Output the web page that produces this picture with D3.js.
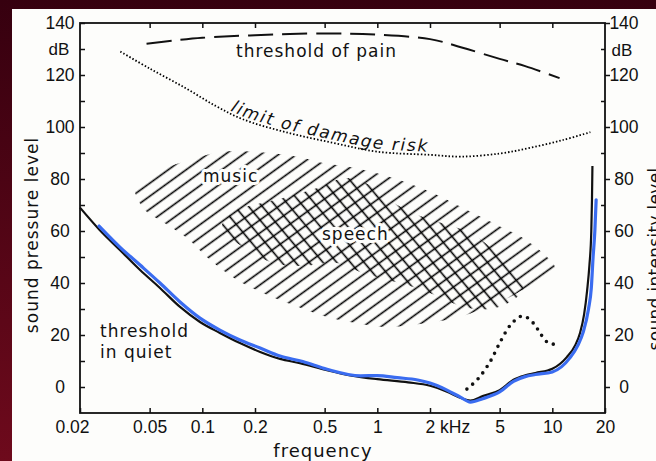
<!DOCTYPE html>
<html><head><meta charset="utf-8">
<script src="https://cdn.jsdelivr.net/npm/d3@7"></script>
<style>
html,body{margin:0;padding:0;background:#4a0514;overflow:hidden}
svg{display:block}
</style></head><body>
<svg id="c" width="656" height="461"></svg>
<script>
// ---------- data ----------
const xTicks = [0.02, 0.05, 0.1, 0.2, 0.5, 1, 2, 5, 10, 20];
const xTickLabels = ["0.02", "0.05", "0.1", "0.2", "0.5", "1", "2 kHz", "5", "10", "20"];
const yTicks = [0, 20, 40, 60, 80, 100, 120, 140];
const yMinorTicks = [10, 30, 50, 70, 90, 110, 130];

const quietFreq = [0.02,0.0259,0.0338,0.0441,0.0573,0.0746,0.097,0.126,0.164,0.214,0.278,0.361,0.516,0.7,1,1.5,2,2.5,3,3.4,4,5,6,7,8,10,12.1,13.5,14.4,15.2,15.8,16.3,16.7,16.85,16.95];
const quietDb   = [69,60.4,52.7,45,38.1,30.8,25,20.8,16.9,13.5,10.8,9.2,6.5,4.5,3,1.8,0.5,-1.8,-4.2,-5.2,-3.5,-1.2,2.8,4.5,5.4,7,11.5,16,20.8,28,37,47,60,72,85];

const blueFreq = [0.0257,0.0338,0.0441,0.0573,0.0746,0.097,0.126,0.164,0.214,0.278,0.375,0.516,0.8,1,1.3,1.7,2,2.5,3,3.4,4,5,6,7,8,10,12.6,14,15,16.1,16.7,17.1,17.5,17.8];
const blueDb   = [61.9,53.8,46.9,40,32.7,26.5,21.9,18.1,15,11.9,9.8,6.8,4.3,4.4,3.6,2.7,1.5,-1.2,-4,-5.8,-4.5,-1.9,2.2,4,4.8,5.8,11.2,16,21,30,38,50,60,72];

const painFreq = [0.048,0.07,0.1,0.2,0.5,1,2,3,5,7,11];
const painDb   = [132,133.3,134.3,135.3,136,135.5,133.8,130.7,126.2,123.4,118.8];

const damageFreq = [0.034,0.05,0.08,0.12,0.17,0.3,0.55,1,2,3,5,7.5,11.5,16.5];
const damageDb   = [129,122.5,115,108,103,98,94,90.5,89.3,88.6,89.8,92,95,98];

const dipFreq = [3.25,3.76,4.4,5.0,5.5,5.88,6.28,6.7,7.26,7.96,8.5,9.33,10.1,11.06];
const dipDb   = [-0.8,3.1,9.6,16.9,21.9,24.6,26.2,27.3,26.5,23.8,20.8,17.3,16.5,16.5];

const musicFreq = [0.0412,0.0452,0.0612,0.085,0.126,0.205,0.33,0.489,0.698,1.18,2.08,3.09,4.83,6.8,9.33,10.36,9.45,7.46,5.73,4.12,2.78,1.75,1.106,0.698,0.516,0.33,0.222,0.158,0.106,0.0817,0.0596,0.047];
const musicDb   = [75.8,79.6,84.2,87.3,90.4,90.4,88.8,86.2,84.6,80.8,74.6,68.8,62.3,57.3,50,45.8,41.9,38.8,34.6,30.4,26.5,24.2,23.1,25,26.9,31.5,36.2,41.2,50,57.3,63.5,68.1];

const speechFreq = [0.1295,0.158,0.195,0.289,0.47,0.654,0.908,1.30,1.82,3.39,5.23,6.54,6.8,5.73,4.41,3.09,2.28,1.60,0.828,0.588,0.361,0.244,0.175,0.140];
const speechDb   = [62.3,68.1,70,72.7,76.9,80.4,77.7,70,65.4,59.2,49.6,43.1,37.3,32.7,30,30.8,34.6,38.5,43.8,47.7,46.5,48.1,53.5,58.1];

// ---------- setup ----------
const W = 656, H = 461;
const svg = d3.select("#c");
const x = d3.scaleLog().domain([0.02, 20]).range([80, 605]);
const y = d3.scaleLinear().domain([-10, 140]).range([413, 23]);
const zip = (f, v) => f.map((d, i) => ({f: d, v: v[i]}));
const INK = "#111";
const TXT = "DejaVu Sans, Verdana, sans-serif";
const NUM = "Liberation Sans, Arial, sans-serif";

const defs = svg.append("defs");
const bg = defs.append("linearGradient").attr("id", "bg").attr("x1", 0).attr("y1", 0).attr("x2", 0).attr("y2", 1);
bg.append("stop").attr("offset", "0%").attr("stop-color", "#36000f");
bg.append("stop").attr("offset", "100%").attr("stop-color", "#6e0a1c");

function hatch(id, angle, gap) {
  const p = defs.append("pattern").attr("id", id).attr("patternUnits", "userSpaceOnUse")
    .attr("width", 20).attr("height", gap).attr("patternTransform", `rotate(${angle})`);
  p.append("line").attr("x1", -2).attr("x2", 22).attr("y1", gap / 2).attr("y2", gap / 2)
    .attr("stroke", "#000").attr("stroke-width", 1.6);
}
hatch("h1", -36, 10.5);
hatch("h2", 50, 10.5);

svg.append("rect").attr("width", W).attr("height", H).attr("fill", "url(#bg)");
svg.append("rect").attr("x", 12).attr("y", 9).attr("width", W - 12).attr("height", H - 9).attr("fill", "#fdfdfb");

// ---------- hatched regions ----------
const area = d3.line().x(d => x(d.f)).y(d => y(d.v)).curve(d3.curveCatmullRomClosed.alpha(0.5));
svg.append("path").attr("d", area(zip(musicFreq, musicDb))).attr("fill", "url(#h1)");
svg.append("path").attr("d", area(zip(speechFreq, speechDb))).attr("fill", "url(#h2)");

// ---------- frame & axes ----------
svg.append("rect").attr("x", x.range()[0]).attr("y", y.range()[1])
  .attr("width", x.range()[1] - x.range()[0]).attr("height", y.range()[0] - y.range()[1])
  .attr("fill", "none").attr("stroke", INK).attr("stroke-width", 1.8);

function styleAxis(g) {
  g.select(".domain").remove();
  g.selectAll("line").attr("stroke", INK).attr("stroke-width", 1.5);
  g.selectAll("text").attr("fill", INK).style("font-family", NUM).style("font-size", "17.5px");
}

const gB = svg.append("g").attr("transform", `translate(0,${y.range()[0]})`)
  .call(d3.axisBottom(x).tickValues(xTicks).tickFormat((d, i) => xTickLabels[i])
    .tickSizeInner(-5).tickSizeOuter(0).tickPadding(8));
styleAxis(gB);
gB.selectAll("text").each(function(d) {
  const t = d3.select(this);
  if (d === 2) t.attr("text-anchor", "start").attr("x", -5);
  if (d === 0.02) t.attr("x", -8);
});

const gT = svg.append("g").attr("transform", `translate(0,${y.range()[1]})`)
  .call(d3.axisTop(x).tickValues(xTicks.slice(1, -1)).tickFormat("").tickSizeInner(-5).tickSizeOuter(0));
styleAxis(gT);

const gL = svg.append("g").attr("transform", `translate(${x.range()[0]},0)`)
  .call(d3.axisLeft(y).tickValues(yTicks).tickSizeInner(-5).tickSizeOuter(0));
styleAxis(gL);
gL.selectAll("text").attr("x", -20).attr("text-anchor", "middle");
const gL2 = svg.append("g").attr("transform", `translate(${x.range()[0]},0)`)
  .call(d3.axisLeft(y).tickValues(yMinorTicks).tickFormat("").tickSizeInner(-5).tickSizeOuter(0));
styleAxis(gL2);

const gR = svg.append("g").attr("transform", `translate(${x.range()[1]},0)`)
  .call(d3.axisRight(y).tickValues(yTicks).tickSizeInner(5).tickSizeOuter(0));
styleAxis(gR);
gR.selectAll("text").attr("x", 19).attr("text-anchor", "middle");
const gR2 = svg.append("g").attr("transform", `translate(${x.range()[1]},0)`)
  .call(d3.axisRight(y).tickValues(yMinorTicks).tickFormat("").tickSizeInner(-4).tickSizeOuter(0));
styleAxis(gR2);

svg.append("text").attr("x", x.range()[0] - 21).attr("y", y(130)).attr("dy", "0.35em")
  .attr("text-anchor", "middle").style("font-family", NUM).style("font-size", "17px").attr("fill", INK).text("dB");
svg.append("text").attr("x", x.range()[1] + 17).attr("y", y(129.5)).attr("dy", "0.35em")
  .attr("text-anchor", "middle").style("font-family", NUM).style("font-size", "17px").attr("fill", INK).text("dB");

// axis titles
svg.append("text").attr("transform", "translate(38,235) rotate(-90)").attr("text-anchor", "middle")
  .style("font-family", TXT).style("font-size", "17px").style("letter-spacing", "1px").attr("fill", INK)
  .text("sound pressure level");
svg.append("text").attr("transform", "translate(661,259) rotate(-90)").attr("text-anchor", "middle")
  .style("font-family", TXT).style("font-size", "17px").style("letter-spacing", "0.3px").attr("fill", INK)
  .text("sound intensity level");
svg.append("text").attr("x", 323).attr("y", 457).attr("text-anchor", "middle")
  .style("font-family", TXT).style("font-size", "18px").style("letter-spacing", "1px").attr("fill", INK)
  .text("frequency");

// ---------- curves ----------
const line = d3.line().x(d => x(d.f)).y(d => y(d.v)).curve(d3.curveMonotoneX);
const smooth = d3.line().x(d => x(d.f)).y(d => y(d.v)).curve(d3.curveCatmullRom.alpha(0.5));

svg.append("path").attr("d", smooth(zip(painFreq, painDb))).attr("fill", "none")
  .attr("stroke", INK).attr("stroke-width", 2).attr("stroke-dasharray", "25 9");

svg.append("path").attr("d", smooth(zip(damageFreq, damageDb))).attr("fill", "none")
  .attr("stroke", "#000").attr("stroke-width", 1.8).attr("stroke-dasharray", "1.5 2");

svg.append("path").attr("d", line(zip(quietFreq, quietDb))).attr("fill", "none")
  .attr("stroke", INK).attr("stroke-width", 2.2);

svg.append("path").attr("d", smooth(zip(dipFreq, dipDb))).attr("fill", "none")
  .attr("stroke", INK).attr("stroke-width", 3.6).attr("stroke-linecap", "round").attr("stroke-dasharray", "0 7.6");

svg.append("path").attr("d", line(zip(blueFreq, blueDb))).attr("fill", "none")
  .attr("stroke", "#3a6cf0").attr("stroke-width", 3.2).attr("stroke-linecap", "round");

// ---------- labels ----------
function label(txt, lx, ly, halo) {
  const t = svg.append("text").attr("x", lx).attr("y", ly)
    .style("font-family", TXT).style("font-size", "17px").style("letter-spacing", "1px").attr("fill", INK).text(txt);
  if (halo) t.attr("stroke", "#fdfdfb").attr("stroke-width", 6).attr("paint-order", "stroke").attr("stroke-linejoin", "round");
  return t;
}
label("threshold of pain", 236, 57, false);
label("music", 203, 182, true);
label("speech", 322, 240, true);
label("threshold", 100, 337, false);
label("in quiet", 100, 358, false);

// "limit of damage risk" following the damage curve
const dmgPath = d3.line().x(d => x(d.f)).y(d => y(d.v) - 3).curve(d3.curveCatmullRom.alpha(0.5));
const tp = defs.append("path").attr("id", "dmgText").attr("d", dmgPath(zip(damageFreq, damageDb)));
const tmp = svg.append("path").attr("d", tp.attr("d")).attr("fill", "none").attr("stroke", "none");
const node = tmp.node();
const L = node.getTotalLength();
let lo = 0, hi = L;
for (let k = 0; k < 40; k++) { const m = (lo + hi) / 2; if (node.getPointAtLength(m).x < 230) lo = m; else hi = m; }
tmp.remove();
svg.append("text").style("font-family", TXT).style("font-size", "17px").style("font-style", "italic")
  .style("letter-spacing", "1.7px").attr("fill", INK)
  .append("textPath").attr("href", "#dmgText").attr("startOffset", lo).text("limit of damage risk");
</script>
</body></html>
